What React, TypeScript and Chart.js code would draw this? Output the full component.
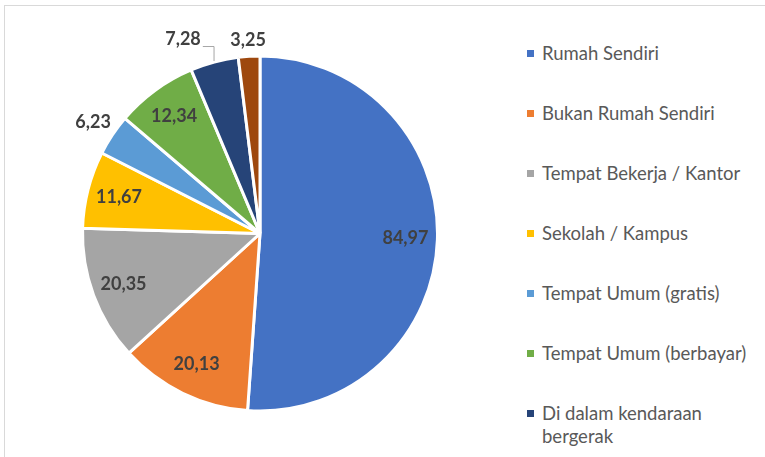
import React, { useEffect, useRef } from "react";
import { Chart, registerables } from "chart.js";

Chart.register(...registerables);

const categories = [
  "Rumah Sendiri",
  "Bukan Rumah Sendiri",
  "Tempat Bekerja / Kantor",
  "Sekolah / Kampus",
  "Tempat Umum (gratis)",
  "Tempat Umum (berbayar)",
  "Di dalam kendaraan bergerak",
  "Lainnya",
];
const values = [84.97, 20.13, 20.35, 11.67, 6.23, 12.34, 7.28, 3.25];
const colors = [
  "#4472C4",
  "#ED7D31",
  "#A5A5A5",
  "#FFC000",
  "#5B9BD5",
  "#70AD47",
  "#264478",
  "#9E480E",
];
const labelModes = ["inside", "inside", "inside", "inside", "outside", "inside", "callout", "outside"];

const LABEL_FONT = "bold 18px Lato";

const sliceLabels = {
  id: "sliceLabels",
  afterDatasetsDraw(chart: any) {
    const ctx = chart.ctx as CanvasRenderingContext2D;
    const meta = chart.getDatasetMeta(0);
    ctx.save();
    ctx.font = LABEL_FONT;
    ctx.fillStyle = "#404040";
    ctx.textAlign = "center";
    ctx.textBaseline = "middle";
    meta.data.forEach((arc: any, i: number) => {
      const p = arc.getProps(["x", "y", "startAngle", "endAngle", "outerRadius"], true);
      const mid = (p.startAngle + p.endAngle) / 2;
      const cos = Math.cos(mid);
      const sin = Math.sin(mid);
      const text = values[i].toFixed(2).replace(".", ",");
      const w = ctx.measureText(text).width;
      const h = 18;
      const mode = labelModes[i];
      let lx: number;
      let ly: number;
      if (mode === "inside") {
        lx = p.x + cos * p.outerRadius * 0.82;
        ly = p.y + sin * p.outerRadius * 0.82;
      } else if (mode === "outside") {
        const tx = Math.abs(cos) < 1e-6 ? Infinity : Math.abs(w / 2 / cos);
        const ty = Math.abs(sin) < 1e-6 ? Infinity : Math.abs(h / 2 / sin);
        const d = p.outerRadius + 7 + Math.min(tx, ty);
        lx = p.x + cos * d;
        ly = p.y + sin * d;
      } else {
        const ax = p.x + cos * (p.outerRadius + 1);
        const ay = p.y + sin * (p.outerRadius + 1);
        lx = ax - 31;
        ly = ay - 21.5;
        ctx.save();
        ctx.strokeStyle = "#a6a6a6";
        ctx.lineWidth = 1;
        ctx.beginPath();
        ctx.moveTo(ax, ay);
        ctx.lineTo(ax, ly + 7);
        ctx.lineTo(lx + w / 2 + 2, ly + 7);
        ctx.stroke();
        ctx.restore();
      }
      ctx.fillText(text, lx, ly);
    });
    ctx.restore();
  },
};

export default function App() {
  const canvasRef = useRef<HTMLCanvasElement | null>(null);

  useEffect(() => {
    if (!canvasRef.current) return;
    const chart = new Chart(canvasRef.current, {
      type: "pie",
      data: {
        labels: categories,
        datasets: [
          {
            data: values,
            backgroundColor: colors,
            borderColor: "#ffffff",
            borderWidth: 3,
          },
        ],
      },
      options: {
        animation: false,
        responsive: false,
        maintainAspectRatio: false,
        layout: { padding: { left: 81, right: 81, top: 54.5, bottom: 44.5 } },
        plugins: {
          legend: { display: false },
          tooltip: { enabled: false },
        },
      },
      plugins: [sliceLabels],
    });
    return () => chart.destroy();
  }, []);

  return (
    <div
      style={{
        position: "fixed",
        left: 0,
        top: 0,
        width: 765,
        height: 457,
        overflow: "hidden",
        background: "#ffffff",
      }}
    >
      <div
        style={{
          position: "absolute",
          left: 4,
          top: 5,
          width: 820,
          height: 520,
          border: "1px solid #d9d9d9",
        }}
      />
      <canvas
        ref={canvasRef}
        width={520}
        height={457}
        style={{ position: "absolute", left: 0, top: 0, width: 520, height: 457 }}
      />
      {categories.map((cat, i) => (
        <div
          key={cat}
          style={{
            position: "absolute",
            left: 527,
            top: 41.5 + i * 60.1,
            display: "flex",
            alignItems: "flex-start",
          }}
        >
          <span
            style={{
              width: 7,
              height: 7,
              background: colors[i],
              marginTop: 8,
              flex: "0 0 auto",
            }}
          />
          <span
            style={{
              marginLeft: 8,
              fontFamily: "Lato",
              fontSize: 18.5,
              lineHeight: "23px",
              color: "#595959",
              width: 218,
            }}
          >
            {cat}
          </span>
        </div>
      ))}
    </div>
  );
}
